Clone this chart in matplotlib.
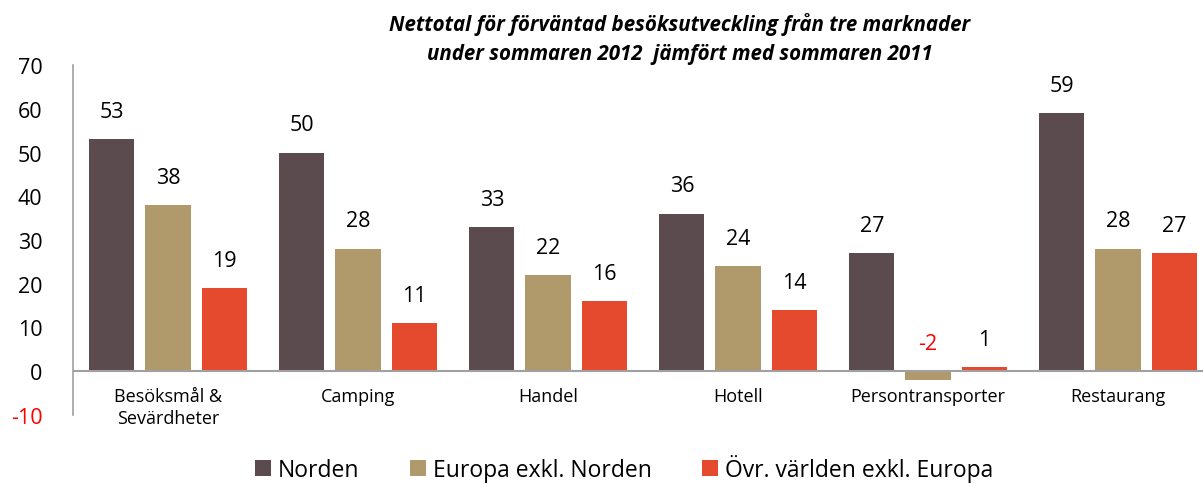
import numpy as np
import matplotlib.pyplot as plt

plt.rcParams['font.family'] = ['Open Sans', 'DejaVu Sans']

categories = ['Besöksmål &\nSevärdheter', 'Camping', 'Handel', 'Hotell',
              'Persontransporter', 'Restaurang']
series = ['Norden', 'Europa exkl. Norden', 'Övr. världen exkl. Europa']
norden = [53, 50, 33, 36, 27, 59]
europa = [38, 28, 22, 24, -2, 28]
ovr = [19, 11, 16, 14, 1, 27]
colors = ['#5B4B4E', '#B09A6B', '#E64A2E']
title = ('Nettotal för förväntad besöksutveckling från tre marknader\n'
         'under sommaren 2012  jämfört med sommaren 2011')

fig = plt.figure(figsize=(12.03, 4.85), dpi=100)
ax = fig.add_axes([73 / 1203, 69 / 485, 1140 / 1203, 350 / 485])

x = np.arange(len(categories))
w = 0.237
step = 0.295
for k, (vals, name) in enumerate(zip([norden, europa, ovr], series)):
    xs = x + (k - 1) * step
    ax.bar(xs, vals, width=w, color=colors[k], label=name, zorder=2)
    for xi, v in zip(xs, vals):
        ax.annotate(str(v), (xi, max(v, 0)), xytext=(0, 20), textcoords='offset points',
                    ha='center', va='center', fontsize=15.5,
                    color='red' if v < 0 else 'black')

ax.set_xlim(-0.5, len(categories) - 0.5)
ax.set_ylim(-10, 70)
ax.set_yticks(range(-10, 71, 10))
ax.set_yticklabels([str(v) for v in range(-10, 71, 10)])
ax.tick_params(axis='y', length=0, labelsize=15.5, pad=22)
ax.get_yticklabels()[0].set_color('red')
ax.set_xticks([])
for s in ['top', 'right', 'bottom']:
    ax.spines[s].set_visible(False)
ax.spines['left'].set_color('#A0A0A0')
ax.spines['left'].set_linewidth(1.2)
ax.axhline(0, color='#A0A0A0', lw=1.5, zorder=3)

for xi, c in zip(x, categories):
    ax.annotate(c, (xi, 0), xytext=(0, -11), textcoords='offset points',
                ha='center', va='top', fontsize=13, linespacing=1.3)

fig.text(680 / 1203, 1 - 39 / 485, title, ha='center', va='center',
         fontsize=14.8, fontweight='bold', fontstyle='italic', linespacing=1.55)

fig.legend(loc='center', bbox_to_anchor=(624 / 1203, 16 / 485), ncol=3, frameon=False,
           fontsize=16.5, handlelength=0.7, handleheight=0.7, handletextpad=0.3,
           columnspacing=2.2, borderpad=0.1)

fig.savefig('out.png', dpi=100)
